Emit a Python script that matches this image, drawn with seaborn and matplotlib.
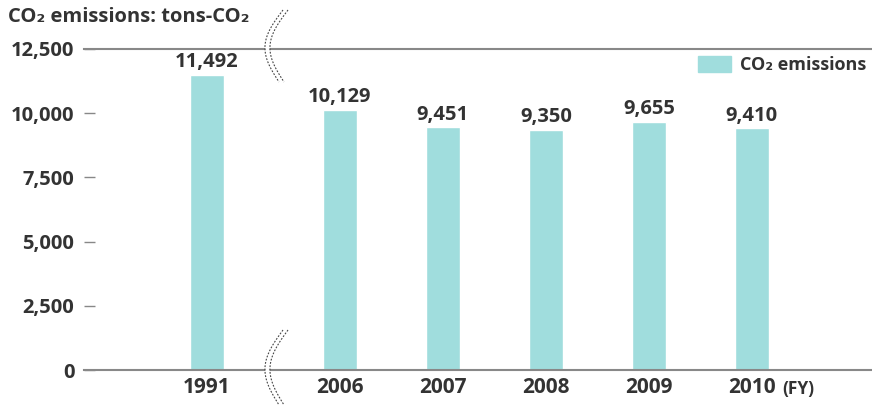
import numpy as np
import pandas as pd
import seaborn as sns
import matplotlib.pyplot as plt
from matplotlib.patches import Patch

# data
years = ["1991", "2006", "2007", "2008", "2009", "2010"]
emissions = [11492, 10129, 9451, 9350, 9655, 9410]
# slot positions (gap after 1991 for the axis break)
slots = [0, 1.29, 2.29, 3.29, 4.29, 5.29]
yticks = [0, 2500, 5000, 7500, 10000, 12500]

bar_color = "#a0dddd"
line_color = "#888888"
text_color = "#333333"

sns.set_theme(style="white")
plt.rcParams["font.family"] = ["Open Sans", "DejaVu Sans"]

df = pd.DataFrame({"slot": slots, "year": years, "co2": emissions})

fig = plt.figure(figsize=(8.72, 4.05), dpi=100)
ax = fig.add_axes([84 / 872, 1 - 370 / 405, 1 - 84 / 872, (370 - 49) / 405])

sns.barplot(data=df, x="slot", y="co2", native_scale=True, width=0.33,
            color=bar_color, saturation=1, ax=ax)

ax.bar_label(ax.containers[0], labels=[f"{v:,}" for v in emissions],
             padding=2, fontsize=14.5, fontweight="bold", color=text_color)

ax.set_xlim(-1.194, 6.456)
ax.set_ylim(0, 12500)
ax.set_xticks(slots)
ax.set_xticklabels(years, fontsize=15, fontweight="bold", color=text_color)
ax.set_yticks(yticks)
ax.set_yticklabels([f"{v:,}" for v in yticks], fontsize=14.5,
                   fontweight="bold", color=text_color)
ax.tick_params(axis="y", direction="in", length=8, width=1, color=line_color,
               pad=7, left=True)
ax.tick_params(axis="x", length=0, pad=5)
ax.set_xlabel("")
ax.set_ylabel("")

for s in ["left", "right"]:
    ax.spines[s].set_visible(False)
for s in ["top", "bottom"]:
    ax.spines[s].set_color(line_color)
    ax.spines[s].set_linewidth(1.5)

# axis break marks (pixel-based figure coords)
def break_mark(y_top, y_bot):
    t = np.linspace(0, 1, 60)
    ys = y_top + (y_bot - y_top) * t
    for off in (0, 5):
        xs = 283 + off - 16 * np.sin(np.pi * t) - 4 * t
        fig.add_artist(plt.Line2D(xs / 872, 1 - ys / 405, color="#444444",
                                  lw=0.8, ls=(0, (1.6, 1.4)), zorder=10))
    xs = 283 - 16 * np.sin(np.pi * t) - 4 * t
    poly = plt.Polygon(np.column_stack([np.r_[xs + 1, (xs + 4)[::-1]] / 872,
                                        1 - np.r_[ys, ys[::-1]] / 405]),
                       closed=True, color="white", zorder=9,
                       transform=fig.transFigure)
    fig.add_artist(poly)

break_mark(10, 82)
break_mark(330, 405)

fig.text(8 / 872, 1 - 17 / 405, "CO₂ emissions: tons-CO₂", fontsize=14.5,
         fontweight="bold", color=text_color, va="center")
fig.text(782 / 872, 1 - 389 / 405, "(FY)", fontsize=12.5,
         fontweight="bold", color=text_color, va="center")

ax.legend(handles=[Patch(color=bar_color, label="CO₂ emissions")],
          loc="upper right", bbox_to_anchor=(1.013, 1.028), frameon=False,
          prop={"weight": "bold", "size": 13}, handlelength=1.8,
          handleheight=0.95, handletextpad=0.5, labelcolor=text_color)

fig.savefig("out.png", dpi=100)
